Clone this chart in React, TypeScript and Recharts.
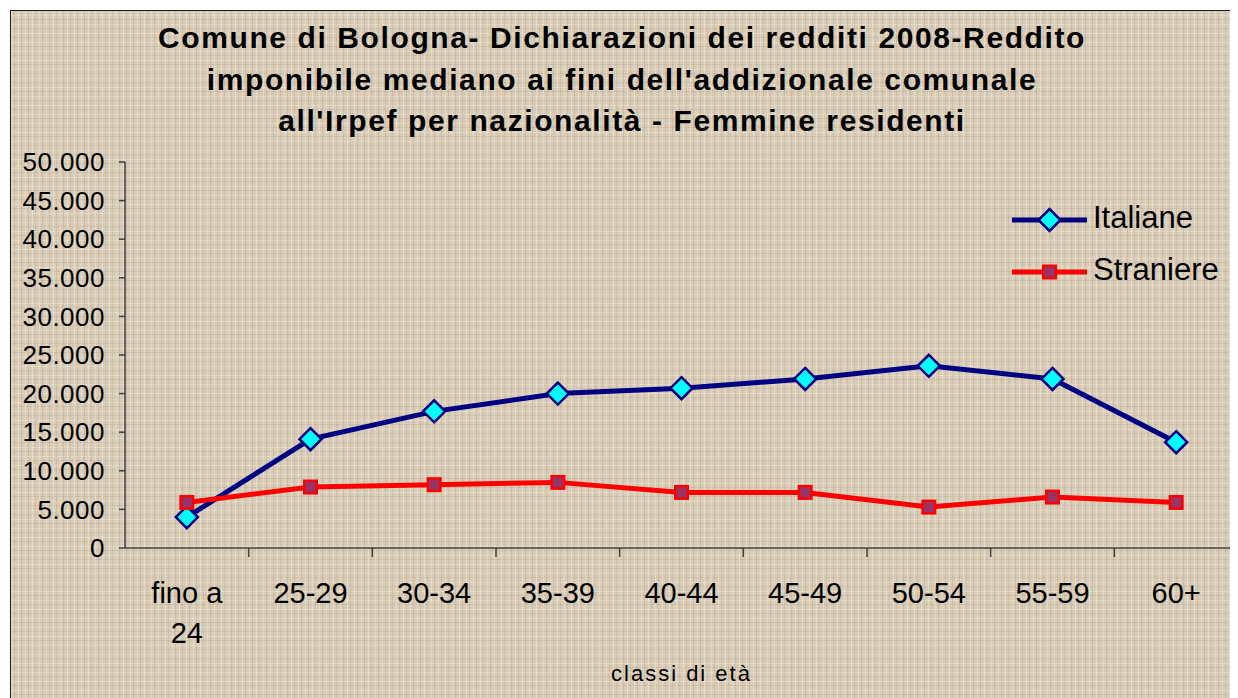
import { LineChart, Line, XAxis, YAxis, Legend } from 'recharts';

const categories = ['fino a 24', '25-29', '30-34', '35-39', '40-44', '45-49', '50-54', '55-59', '60+'];
const italiane = [4000, 14100, 17700, 20000, 20700, 21900, 23600, 21900, 13700];
const straniere = [5900, 7900, 8200, 8500, 7200, 7200, 5300, 6600, 5900];
const yTicks = [0, 5000, 10000, 15000, 20000, 25000, 30000, 35000, 40000, 45000, 50000];
const titleLines = [
  'Comune di Bologna- Dichiarazioni dei redditi 2008-Reddito',
  "imponibile mediano ai fini dell'addizionale comunale",
  "all'Irpef per nazionalità - Femmine residenti",
];

const data = categories.map((c, i) => ({ classe: c, Italiane: italiane[i], Straniere: straniere[i] }));

const W = 1230;
const H = 690;
const Y_AXIS_W = 117;
const X_AXIS_H = 150;
const X_TICK_SIZE = 8;
const X_TICK_MARGIN = 26;
const bandWidth = (W - Y_AXIS_W) / categories.length;
const font = "Arial, 'Liberation Sans', sans-serif";
const axisColor = '#404040';

// 5000 -> "5.000"
const fmt = (v: number) => String(v).replace(/\B(?=(\d{3})+(?!\d))/g, '.');

const diamondPath = (cx: number, cy: number, r: number) =>
  `M${cx},${cy - r}L${cx + r},${cy}L${cx},${cy + r}L${cx - r},${cy}Z`;

const DiamondDot = (p: any) => {
  if (p.cx == null || p.cy == null) return <g key={`d-${p.index}`} />;
  return (
    <path key={`d-${p.index}`} d={diamondPath(p.cx, p.cy, 11)} fill="#00ffff" stroke="#000080" strokeWidth={2.5} />
  );
};

const SquareDot = (p: any) => {
  if (p.cx == null || p.cy == null) return <g key={`s-${p.index}`} />;
  return (
    <rect key={`s-${p.index}`} x={p.cx - 6.25} y={p.cy - 6.25} width={12.5} height={12.5} fill="#993366" stroke="#ff0000" strokeWidth={2.5} />
  );
};

const XTick = (p: any) => {
  const { x, y, payload } = p;
  const label: string = payload.value;
  const cut = label.lastIndexOf(' ');
  const lines = label.length > 6 && cut > 0 ? [label.slice(0, cut), label.slice(cut + 1)] : [label];
  const axisY = y - X_TICK_SIZE - X_TICK_MARGIN;
  const bx = x + bandWidth / 2;
  return (
    <g>
      <line x1={bx} x2={bx} y1={axisY} y2={axisY + 9} stroke={axisColor} strokeWidth={1.5} />
      <text x={x} y={y} textAnchor="middle" fontFamily={font} fontSize={29} fill="#000">
        {lines.map((l, i) => (
          <tspan key={i} x={x} dy={i === 0 ? '0.71em' : 40}>
            {l}
          </tspan>
        ))}
      </text>
    </g>
  );
};

const LegendContent = (props: any) => {
  const items = props.payload || [];
  return (
    <svg width={240} height={110}>
      {items.map((it: any, i: number) => {
        const ly = 32 + i * 52;
        const isItaliane = it.value === 'Italiane';
        return (
          <g key={it.value}>
            <line x1={8} x2={83} y1={ly} y2={ly} stroke={it.color} strokeWidth={5} />
            {isItaliane ? (
              <path d={diamondPath(45.5, ly, 11)} fill="#00ffff" stroke="#000080" strokeWidth={2.5} />
            ) : (
              <rect x={45.5 - 6.25} y={ly - 6.25} width={12.5} height={12.5} fill="#993366" stroke="#ff0000" strokeWidth={2.5} />
            )}
            <text x={89} y={ly + 8} fontFamily={font} fontSize={31} fill="#000">
              {it.value}
            </text>
          </g>
        );
      })}
    </svg>
  );
};

const texture = [
  'repeating-linear-gradient(90deg, rgba(246,239,224,0.4) 0px, rgba(246,239,224,0.4) 1px, transparent 1px, transparent 3px, rgba(158,138,126,0.22) 3px, rgba(158,138,126,0.22) 4px, transparent 4px, transparent 7px)',
  'repeating-linear-gradient(0deg, rgba(246,239,224,0.35) 0px, rgba(246,239,224,0.35) 1px, transparent 1px, transparent 5px, rgba(158,138,126,0.2) 5px, rgba(158,138,126,0.2) 6px, transparent 6px, transparent 9px)',
].join(',');

export default function App() {
  return (
    <div style={{ position: 'relative', width: W, height: H, overflow: 'hidden', background: '#fff' }}>
      <div
        style={{
          position: 'absolute',
          left: 2,
          top: 2,
          width: W + 10,
          height: H + 10,
          boxSizing: 'border-box',
          border: '1.5px solid #1a1a1a',
          backgroundColor: '#d8ccb7',
          backgroundImage: texture,
        }}
      />
      <div style={{ position: 'absolute', left: 0, top: 0 }}>
        <LineChart width={W} height={H} data={data} margin={{ top: 154, right: 0, left: 0, bottom: 0 }}>
          <XAxis
            dataKey="classe"
            scale="band"
            height={X_AXIS_H}
            interval={0}
            tickLine={false}
            tickSize={X_TICK_SIZE}
            tickMargin={X_TICK_MARGIN}
            tick={<XTick />}
            stroke={axisColor}
            strokeWidth={1.5}
            label={{ value: 'classi di età', position: 'insideBottom', offset: 17, fontFamily: font, fontSize: 22, letterSpacing: 2, fill: '#000' }}
          />
          <YAxis
            width={Y_AXIS_W}
            domain={[0, 50000]}
            ticks={yTicks}
            interval={0}
            tickFormatter={fmt}
            tickSize={6}
            tickMargin={14}
            stroke={axisColor}
            strokeWidth={1.5}
            tick={{ fontFamily: font, fontSize: 26, fill: '#000', letterSpacing: 0.5 }}
          />
          <Legend
            layout="vertical"
            align="center"
            verticalAlign="middle"
            content={<LegendContent />}
            wrapperStyle={{ position: 'absolute', left: 996, top: 180, width: 240, height: 110 }}
          />
          <Line
            type="linear"
            dataKey="Italiane"
            stroke="#000080"
            strokeWidth={5}
            dot={DiamondDot}
            isAnimationActive={false}
          />
          <Line
            type="linear"
            dataKey="Straniere"
            stroke="#ff0000"
            strokeWidth={5}
            dot={SquareDot}
            isAnimationActive={false}
          />
        </LineChart>
      </div>
      <svg width={W} height={150} style={{ position: 'absolute', left: 0, top: 0 }}>
        {titleLines.map((t, i) => (
          <text
            key={i}
            x={614}
            y={40 + i * 41.5}
            textAnchor="middle"
            fontFamily={font}
            fontWeight="bold"
            fontSize={30}
            letterSpacing={1.6}
            fill="#000"
          >
            {t}
          </text>
        ))}
      </svg>
    </div>
  );
}
